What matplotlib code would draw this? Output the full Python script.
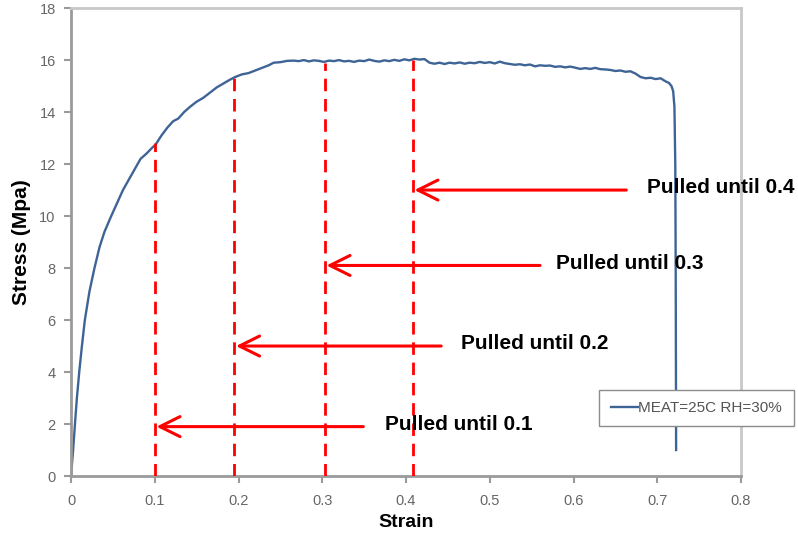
import matplotlib
matplotlib.use("Agg")
import matplotlib.pyplot as plt

plt.rcParams['font.family'] = ['Liberation Sans', 'DejaVu Sans']

# Stress-strain trace (strain, stress in MPa)
strain = [0.0, 0.0025, 0.0047, 0.007, 0.0098, 0.013, 0.0165, 0.022, 0.028, 0.034,
          0.040, 0.048, 0.055, 0.062, 0.069, 0.076, 0.083, 0.090, 0.096, 0.101,
          0.108, 0.115, 0.122, 0.128, 0.135, 0.142, 0.150, 0.158, 0.166, 0.174,
          0.182, 0.190, 0.196, 0.204, 0.212, 0.220, 0.228, 0.236, 0.242, 0.250,
          0.258, 0.266, 0.272, 0.278, 0.284, 0.290, 0.296, 0.302, 0.308, 0.314,
          0.320, 0.326, 0.332, 0.338, 0.344, 0.350, 0.356, 0.362, 0.368, 0.374,
          0.380, 0.386, 0.392, 0.398, 0.404, 0.410, 0.416, 0.422, 0.428, 0.434,
          0.440, 0.446, 0.452, 0.458, 0.464, 0.470, 0.476, 0.482, 0.488, 0.494,
          0.500, 0.506, 0.512, 0.518, 0.524, 0.530, 0.536, 0.542, 0.548, 0.554,
          0.560, 0.566, 0.572, 0.578, 0.584, 0.590, 0.596, 0.602, 0.608, 0.614,
          0.620, 0.626, 0.632, 0.638, 0.644, 0.650, 0.656, 0.662, 0.668, 0.674,
          0.680, 0.686, 0.692, 0.698, 0.704, 0.710, 0.714, 0.717, 0.719, 0.7205,
          0.7215, 0.722, 0.7225]
stress = [0.0, 1.0, 2.0, 3.0, 4.0, 5.0, 6.0, 7.1, 8.0, 8.8,
          9.4, 10.0, 10.5, 11.0, 11.4, 11.8, 12.2, 12.4, 12.6, 12.75,
          13.1, 13.4, 13.65, 13.75, 14.0, 14.2, 14.4, 14.55, 14.75, 14.95,
          15.1, 15.25, 15.35, 15.45, 15.5, 15.6, 15.7, 15.8, 15.9, 15.92,
          15.97, 15.98, 15.96, 16.0, 15.95, 15.99, 15.97, 15.93, 15.98, 15.96,
          16.0, 15.95, 15.97, 15.93, 15.98, 15.96, 16.02, 15.97, 15.94, 15.99,
          15.96, 16.01, 15.97, 16.03, 15.99, 16.05, 16.02, 16.04, 15.9, 15.86,
          15.9, 15.85, 15.9, 15.87, 15.91, 15.86, 15.9, 15.88, 15.93, 15.89,
          15.92, 15.87, 15.94, 15.88, 15.85, 15.82, 15.84, 15.8, 15.83, 15.76,
          15.8, 15.78, 15.79, 15.74, 15.76, 15.72, 15.75, 15.71, 15.66, 15.69,
          15.66, 15.7, 15.65, 15.64, 15.62, 15.58, 15.6, 15.55, 15.57, 15.48,
          15.35, 15.3, 15.32, 15.27, 15.3, 15.18, 15.12, 15.0, 14.8, 14.2,
          12.0, 8.0, 1.0]

series_label = "MEAT=25C RH=30%"

# Interrupted tests: strain where pulling stopped and stress reached there
pulled_strain = [0.1, 0.195, 0.303, 0.408]
pulled_top = [12.8, 15.3, 15.9, 16.0]
pulled_labels = ["Pulled until 0.1", "Pulled until 0.2",
                 "Pulled until 0.3", "Pulled until 0.4"]
arrow_y = [1.9, 5.0, 8.1, 11.0]
arrow_tail = [0.349, 0.442, 0.560, 0.663]
label_x = [0.375, 0.466, 0.579, 0.688]

x_ticks = [0, 0.1, 0.2, 0.3, 0.4, 0.5, 0.6, 0.7, 0.8]
x_tick_labels = ["0", "0.1", "0.2", "0.3", "0.4", "0.5", "0.6", "0.7", "0.8"]
y_ticks = [0, 2, 4, 6, 8, 10, 12, 14, 16, 18]

fig = plt.figure(figsize=(7.98, 5.40), dpi=100)
ax = fig.add_axes([0.089, 0.1185, 0.8396, 0.8665])

line, = ax.plot(strain, stress, color='#3e6496', lw=1.7, label=series_label)

for xs, top in zip(pulled_strain, pulled_top):
    ax.plot([xs, xs], [0, top], color='#ff0000', lw=2.0,
            dashes=(4.5, 2.8), zorder=3)

for xs, ya, xt, xl, txt in zip(pulled_strain, arrow_y, arrow_tail,
                               label_x, pulled_labels):
    ax.annotate("", xy=(xs + 0.002, ya), xytext=(xt, ya),
                arrowprops=dict(arrowstyle="->,head_length=1.45,head_width=0.72",
                                color='#ff0000', lw=2.2,
                                shrinkA=0, shrinkB=0),
                zorder=4)
    ax.text(xl, ya + 0.08, txt, fontsize=15, fontweight='bold',
            va='center', ha='left', color='black', clip_on=False)

ax.set_xlim(0, 0.8)
ax.set_ylim(0, 18)
ax.set_xticks(x_ticks)
ax.set_xticklabels(x_tick_labels)
ax.set_yticks(y_ticks)

for side in ['left', 'bottom']:
    ax.spines[side].set_color('#9a9a9a')
    ax.spines[side].set_linewidth(2.0)
for side in ['top', 'right']:
    ax.spines[side].set_color('#c8c8c8')
    ax.spines[side].set_linewidth(2.0)

ax.tick_params(axis='both', colors='#9a9a9a', labelcolor='#666666',
               labelsize=10.5, length=5, width=1.5, direction='out')
ax.tick_params(axis='x', pad=8)
ax.tick_params(axis='y', pad=6)

ax.set_xlabel("Strain", fontsize=14, fontweight='bold', labelpad=4)
ax.set_ylabel("Stress (Mpa)", fontsize=15, fontweight='bold', labelpad=6)

leg = fig.legend(handles=[line], loc='center', bbox_to_anchor=(0.8728, 0.2444),
                 frameon=True, fancybox=False, fontsize=11, framealpha=1.0,
                 handlelength=1.8, handletextpad=0.0, borderpad=0.75)
leg.get_frame().set_edgecolor('#8c8c8c')
leg.get_frame().set_linewidth(1.0)
for t in leg.get_texts():
    t.set_color('#555555')

fig.savefig("out.png", dpi=100, facecolor='white')
